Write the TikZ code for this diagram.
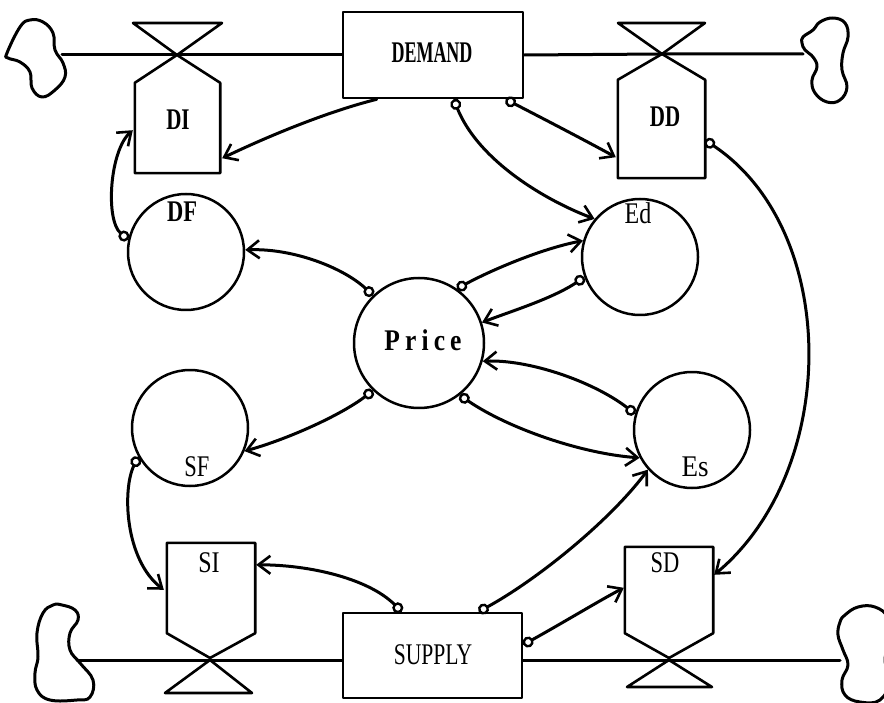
\documentclass[tikz,border=0pt]{standalone}
\usepackage{fontspec}
\setmainfont{Liberation Serif}
\usepackage{graphicx}
\usetikzlibrary{arrows.meta,calc}
\newcommand{\hsq}[2][0.75]{\scalebox{#1}[1]{#2}}
\begin{document}
\begin{tikzpicture}[x=1pt,y=-1pt,line join=round,line cap=round,
  flow/.style={line width=3pt},
  cloudline/.style={line width=3pt},
  aux/.style={circle,draw,line width=2.5pt,minimum size=116pt,inner sep=0pt},
  stock/.style={rectangle,draw,line width=2.6pt,inner sep=0pt},
  body/.style={rectangle,inner sep=0pt},
  outline/.style={line width=2.6pt},
  lbl/.style={font=\fontsize{30}{32}\selectfont,inner sep=0pt},
  link/.style={line width=3pt,{Circle[open,length=11pt,width=11pt,line width=2.4pt]}-{Straight Barb[length=12pt,width=18pt,line width=2.6pt]}},
  plainlink/.style={line width=3pt,-{Straight Barb[length=12pt,width=18pt,line width=2.6pt]}}
]
\useasboundingbox (0,0) rectangle (884,703);

% ---------- clouds ----------
\draw[cloudline] plot[smooth cycle,tension=0.7] coordinates {(7,53) (20,27) (30,20) (43,22) (53,33) (55,50) (63,63) (65,77) (55,90) (42,97) (32,88) (30,72) (20,62) (8,58)};
\coordinate (cTL) at (62,55);
\draw[cloudline] plot[smooth cycle,tension=0.7] coordinates {(803,37) (813,30) (820,22) (833,18) (845,23) (848,37) (843,53) (842,70) (847,87) (840,100) (827,102) (815,93) (812,80) (817,67) (813,57) (805,50) (802,43)};
\coordinate (cTR) at (803,54);
\draw[cloudline] plot[smooth cycle,tension=0.7] coordinates {(62,605) (75,610) (78,620) (70,633) (70,650) (80,663) (93,680) (90,697) (77,700) (50,700) (37,690) (35,673) (38,657) (37,633) (43,613) (53,605)};
\coordinate (cBL) at (77,660);
\draw[cloudline] plot[smooth cycle,tension=0.7] coordinates {(845,615) (858,607) (875,607) (888,618) (890,640) (885,660) (890,680) (880,700) (860,702) (845,695) (842,680) (848,665) (843,650) (838,635) (840,622)};
\coordinate (cBR) at (840,660);

% ---------- levels ----------
\node[stock,minimum width=180pt,minimum height=86pt] (DEMAND) at (433,55) {};
\node[lbl] (DEMANDt) at (432,53) {\hsq[0.6]{\bfseries DEMAND}};
\node[stock,minimum width=179pt,minimum height=85pt] (SUPPLY) at (432.5,655.5) {};
\node[lbl] (SUPPLYt) at (433,655) {\hsq[0.72]{SUPPLY}};

% ---------- rate valves and rate boxes ----------
\coordinate (DIv) at (177,55);
\coordinate (DDv) at (662,54);
\coordinate (SIv) at (210,660);
\coordinate (SDv) at (669,660);

\draw[outline] (133,23) -- (222,23) -- (DIv) -- cycle;
\draw[outline] (618,23) -- (705,23) -- (DDv) -- cycle;
\draw[outline] (165,693) -- (252,693) -- (SIv) -- cycle;
\draw[outline] (627,687) -- (712,687) -- (SDv) -- cycle;

\node[body,minimum width=85pt,minimum height=90pt] (DI) at (177.5,128) {};
\node[body,minimum width=87pt,minimum height=98pt] (DD) at (661.5,129) {};
\node[body,minimum width=88pt,minimum height=90pt] (SI) at (211,588) {};
\node[body,minimum width=88pt,minimum height=86pt] (SD) at (669,590) {};

\draw[outline] (DI.north west) -- (DI.south west) -- (DI.south east) -- (DI.north east) -- (DIv) -- cycle;
\draw[outline] (DD.north west) -- (DD.south west) -- (DD.south east) -- (DD.north east) -- (DDv) -- cycle;
\draw[outline] (SI.south west) -- (SI.north west) -- (SI.north east) -- (SI.south east) -- ($(SIv)+(0,-2)$) -- cycle;
\draw[outline] (SD.south west) -- (SD.north west) -- (SD.north east) -- (SD.south east) -- ($(SDv)+(0,-2)$) -- cycle;

\node[lbl] (DIt) at (178,120) {\hsq[0.7]{\bfseries DI}};
\node[lbl] (DDt) at (665,117) {\hsq[0.7]{\bfseries DD}};
\node[lbl] (SIt) at (209,563) {\hsq[0.8]{SI}};
\node[lbl] (SDt) at (665,563) {\hsq[0.75]{SD}};

% ---------- flow lines ----------
\draw[flow] (cTL) -- (DIv) -- (DEMAND.west);
\draw[flow] (DEMAND.east) -- (DDv) -- (cTR);
\draw[flow] (cBL) -- (SIv) -- (SUPPLY.west |- SIv);
\draw[flow] (SUPPLY.east |- SDv) -- (SDv) -- (cBR);

% ---------- auxiliaries ----------
\node[aux] (DF) at (186,252) {};
\node[aux] (Ed) at (640,257) {};
\node[aux,minimum size=130pt] (Price) at (419,343) {};
\node[aux] (SF) at (190,428) {};
\node[aux] (Es) at (692,430) {};

\node[lbl] (DFt) at (182,212) {\hsq[0.75]{\bfseries DF}};
\node[lbl] (Edt) at (638,213) {\hsq[0.8]{Ed}};
\node[lbl] (Pricet) at (423,340) {\hsq[0.85]{\bfseries\addfontfeature{LetterSpace=20}Price}};
\node[lbl] (SFt) at (197,467) {\hsq[0.75]{SF}};
\node[lbl] (Est) at (695,467) {\hsq[0.9]{Es}};

% ---------- connectors ----------
\draw[plainlink] ($(DEMAND.south west)+(35,0)$) .. controls +(-48,12) and +(48,-23) .. ($(DI.south east)+(2,-15)$);
\draw[link] ($(DEMAND.south west)+(112,0)$) .. controls +(25,62) and +(-48,-18) .. (Ed.140);
\draw[link] ($(DEMAND.south west)+(164,0)$) .. controls +(33,17) and +(-31,-17) .. ($(DD.south west)+(-2,-21)$);
\draw[link] ($(DD.south east)+(0,-38)$) .. controls +(135,90) and +(126,-105) .. ($(SD.north east)+(1,28)$);
\draw[link] (DF.168) .. controls +(-23,-20) and +(-23,20) .. ($(DI.south west)+(-2,-43)$);
\draw[link] (Price.134) .. controls +(-30,-28) and +(47,-2) .. (DF.2);
\draw[link] (Price.55) .. controls +(33,-18) and +(-42,8) .. (Ed.164);
\draw[link] (Ed.200) .. controls +(-33,22) and +(25,-10) .. (Price.18);
\draw[link] (Es.164) .. controls +(-43,-33) and +(45,-2) .. (Price.-16);
\draw[link] (Price.-52) .. controls +(48,33) and +(-58,-4) .. (Es.208);
\draw[link] (Price.-134) .. controls +(-33,25) and +(43,-12) .. (SF.-23);
\draw[link] (SF.209) .. controls +(-16,33) and +(-39,-30) .. ($(SI.north west)+(-3,47)$);
\draw[link] ($(SUPPLY.north west)+(60,0)$) .. controls +(-33,-33) and +(54,0) .. ($(SI.north east)+(1,22)$);
\draw[link] ($(SUPPLY.north west)+(137,0)$) .. controls +(60,-33) and +(-37,50) .. (Es.222);
\draw[link] ($(SUPPLY.north east)+(0,33)$) .. controls +(38,-21) and +(-23,12) .. ($(SD.north west)+(-1,41)$);
\end{tikzpicture}
\end{document}
